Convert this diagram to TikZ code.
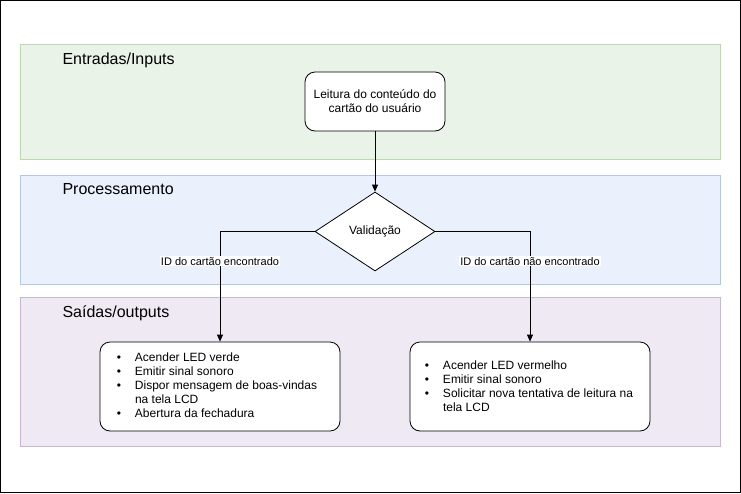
\documentclass[tikz,border=0pt]{standalone}
\usepackage{fontspec}
\setmainfont{Liberation Sans}
\usetikzlibrary{positioning,shapes.geometric,arrows.meta}

\definecolor{inFill}{RGB}{234,243,232}
\definecolor{inLine}{RGB}{188,216,176}
\definecolor{procFill}{RGB}{234,241,252}
\definecolor{procLine}{RGB}{178,199,228}
\definecolor{outFill}{RGB}{239,233,243}
\definecolor{outLine}{RGB}{200,184,210}

\newcommand{\bul}{\textbullet}

\begin{document}
\begin{tikzpicture}[x=1pt,y=-1pt,
    band/.style={draw=#1Line,fill=#1Fill,line width=0.8pt},
    bandtitle/.style={anchor=west,font=\fontsize{16}{18}\selectfont},
    roundbox/.style={draw,fill=white,rounded corners=10pt,line width=0.8pt},
    flow/.style={-{Triangle[length=7pt,width=6pt]},line width=0.8pt},
    branch/.style={fill=white,inner sep=1pt,font=\fontsize{11}{13}\selectfont},
    itemlist/.style={anchor=west,inner sep=0pt,align=left,font=\fontsize{12}{14}\selectfont}]
    \useasboundingbox (0,0) rectangle (741,493);
    \draw[line width=1pt] (0.5,0.5) rectangle (740.5,492);
    % the three bands
    \draw[band=in] (20,44) rectangle (720,159);
    \draw[band=proc] (20,175) rectangle (720,284);
    \draw[band=out] (20,297) rectangle (720,446);
    \node[bandtitle] (inTitle) at (59,60) {Entradas/Inputs};
    \node[bandtitle] (procTitle) at (59,189) {Processamento};
    \node[bandtitle] (outTitle) at (59,313) {Saídas/outputs};
    % flow
    \node[roundbox,minimum width=140pt,minimum height=59pt,align=center,
      font=\fontsize{12}{14}\selectfont] (leitura) at (375,101.5)
      {Leitura do conteúdo do\\cartão do usuário};
    \node[diamond,draw,fill=white,line width=0.8pt,inner sep=0pt,
      minimum width=120pt,minimum height=79pt,aspect=1.5,
      font=\fontsize{12}{14}\selectfont] (valida) at (375,231.5) {Validação};
    \node[roundbox,minimum width=240pt,minimum height=89pt] (okbox) at (220,386.5) {};
    \node[roundbox,minimum width=240pt,minimum height=89pt] (failbox) at (530,386.5) {};
    \node[itemlist,right=17pt of okbox.west] (oklist) {%
      \begin{tabular}{@{}l@{\hspace{14pt}}l@{}}
      \bul & Acender LED verde\\
      \bul & Emitir sinal sonoro\\
      \bul & Dispor mensagem de boas-vindas\\
           & na tela LCD\\
      \bul & Abertura da fechadura
      \end{tabular}};
    \node[itemlist,right=15pt of failbox.west,yshift=-1.5pt] (faillist) {%
      \begin{tabular}{@{}l@{\hspace{14pt}}l@{}}
      \bul & Acender LED vermelho\\
      \bul & Emitir sinal sonoro\\
      \bul & Solicitar nova tentativa de leitura na\\
           & tela LCD
      \end{tabular}};
    \draw[flow] (leitura) -- (valida);
    \draw[flow] (valida.west) -| node[branch,pos=0.635] (okLabel) {ID do cartão encontrado} (okbox.north);
    \draw[flow] (valida.east) -| node[branch,pos=0.635] (failLabel) {ID do cartão não encontrado} (failbox.north);
  \end{tikzpicture}
\end{document}
